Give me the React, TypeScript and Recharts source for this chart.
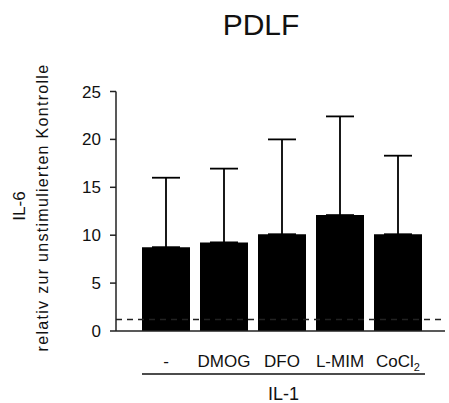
import { BarChart, Bar, XAxis, YAxis, ErrorBar, ReferenceLine } from "recharts";

const categories = ["-", "DMOG", "DFO", "L-MIM", "CoCl2"];
const means = [8.75, 9.25, 10.1, 12.1, 10.1];
const upperErrors = [7.25, 7.7, 9.9, 10.3, 8.2];
const yTicks = [0, 5, 10, 15, 20, 25];
const controlLevel = 1.2;

const data = categories.map((name, i) => ({
  name,
  value: means[i],
  err: [0, upperErrors[i]],
}));

const FONT = "'Liberation Sans', Arial, sans-serif";

function CategoryTick(props: any) {
  const { x, y, payload } = props;
  const label: string = payload.value;
  if (label === "CoCl2") {
    return (
      <text x={x} y={y} dy={36} textAnchor="middle" fontSize={17} fontFamily={FONT} fill="#111">
        CoCl
        <tspan fontSize={11} dy={4}>
          2
        </tspan>
      </text>
    );
  }
  return (
    <text x={x} y={y} dy={36} textAnchor="middle" fontSize={17} fontFamily={FONT} fill="#111">
      {label}
    </text>
  );
}

function GroupLabel(props: any) {
  const vb = props.viewBox;
  const x1 = vb.x + 26;
  const x2 = vb.x + 309;
  return (
    <g>
      <line x1={x1} x2={x2} y1={vb.y + 43} y2={vb.y + 43} stroke="#111" strokeWidth={1.5} />
      <text x={(x1 + x2) / 2} y={vb.y + 69} textAnchor="middle" fontSize={18} fontFamily={FONT} fill="#111">
        IL-1
      </text>
    </g>
  );
}

function YLabel(props: any) {
  const vb = props.viewBox;
  const x1 = vb.x + 25;
  const x2 = vb.x + 48;
  return (
    <g>
      <text
        x={x1}
        y={206}
        transform={`rotate(-90 ${x1} 206)`}
        textAnchor="middle"
        fontSize={17}
        fontFamily={FONT}
        fill="#111"
      >
        IL-6
      </text>
      <text
        x={x2}
        y={207.5}
        transform={`rotate(-90 ${x2} 207.5)`}
        textAnchor="middle"
        fontSize={16}
        letterSpacing={1.3}
        fontFamily={FONT}
        fill="#111"
      >
        relativ zur unstimulierten Kontrolle
      </text>
    </g>
  );
}

export default function App() {
  return (
    <div style={{ position: "absolute", left: 0, top: 0, width: 449, height: 403, background: "#fff" }}>
      <div
        style={{
          position: "absolute",
          left: 0,
          top: 10,
          width: 522,
          textAlign: "center",
          fontFamily: FONT,
          fontSize: 30,
          lineHeight: "30px",
          color: "#111",
        }}
      >
        PDLF
      </div>
      <BarChart width={449} height={403} data={data} margin={{ top: 91.5, right: 4, bottom: 0, left: 0 }}>
        <ReferenceLine y={controlLevel} stroke="#222" strokeWidth={1.5} strokeDasharray="6 5" />
        <XAxis
          dataKey="name"
          height={72}
          padding={{ left: 21, right: 18 }}
          tickLine={false}
          tickSize={0}
          tickMargin={0}
          tick={<CategoryTick />}
          stroke="#222"
          strokeWidth={1.5}
          label={<GroupLabel />}
        />
        <YAxis
          width={116}
          domain={[0, 25]}
          ticks={yTicks}
          tickSize={6}
          tickMargin={9}
          stroke="#222"
          strokeWidth={1.5}
          tick={{ fontSize: 17, fontFamily: FONT, fill: "#111" }}
          label={<YLabel />}
        />
        <Bar dataKey="value" fill="#000" barSize={48} isAnimationActive={false}>
          <ErrorBar dataKey="err" width={14} stroke="#000" strokeWidth={1.8} direction="y" />
        </Bar>
      </BarChart>
    </div>
  );
}
